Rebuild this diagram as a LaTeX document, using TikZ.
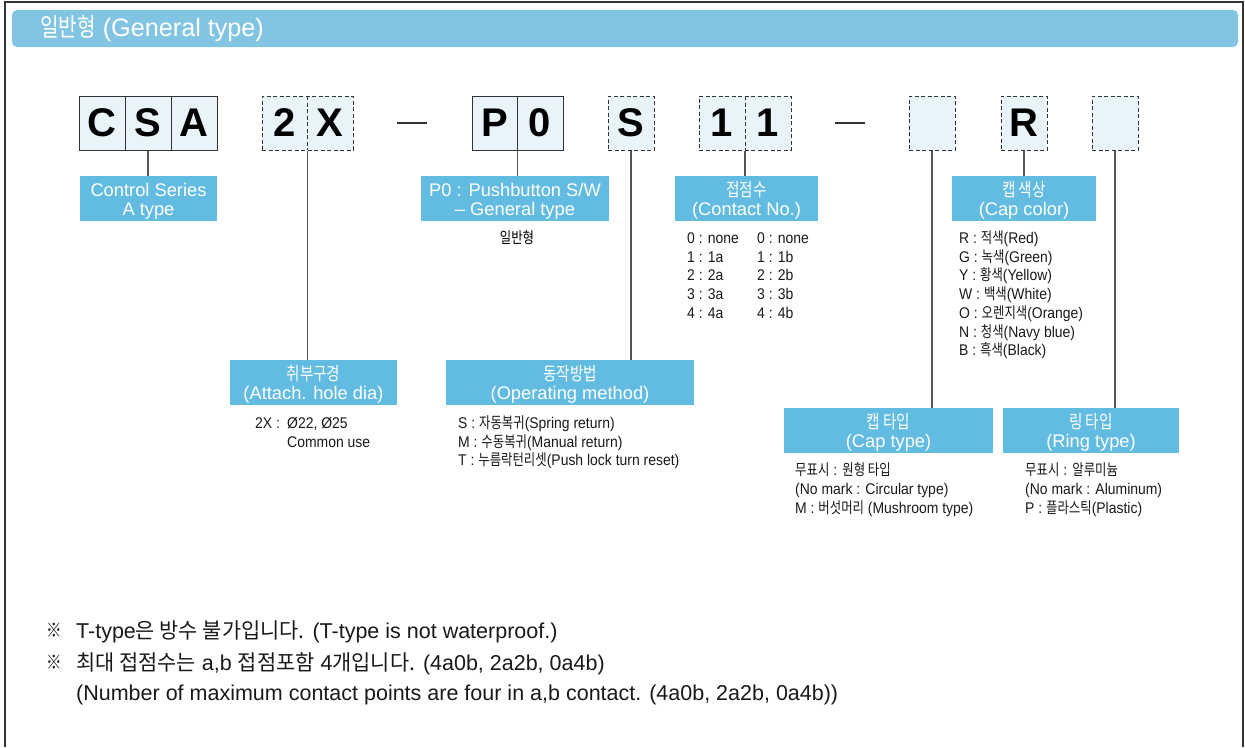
\documentclass[tikz,border=0pt]{standalone}
\usepackage{fontspec}
\setmainfont{Liberation Sans}[FakeStretch=0.9]
\newfontfamily\latw{Liberation Sans}
\newfontfamily\krf{Noto Sans CJK KR}[FakeStretch=0.8]
\newfontfamily\krnf{Noto Sans CJK KR}[FakeStretch=0.97]
\newfontfamily\codef{Liberation Sans}
\newcommand\kr[1]{{\krf #1}}
\newcommand\krn[1]{{\krnf #1}}
\definecolor{hdr}{HTML}{82C5E3}
\definecolor{lab}{HTML}{62BBE1}
\definecolor{cellfill}{HTML}{E8F4F9}
\definecolor{edge}{HTML}{333333}
\definecolor{connc}{HTML}{555555}
\begin{document}
\begin{tikzpicture}[x=1pt,y=-1pt,
  cellbox/.style={draw=edge, fill=cellfill, line width=1pt, minimum height=54pt, inner sep=0pt, rectangle},
  dashcell/.style={cellbox, dash pattern=on 4pt off 2.5pt},
  divsolid/.style={draw=edge, line width=1pt},
  divdash/.style={draw=edge, line width=1pt, dash pattern=on 4pt off 2.5pt},
  codeletter/.style={font=\codef\bfseries\fontsize{40}{40}\selectfont, inner sep=0pt, text=black},
  labelbox/.style={fill=lab, text=white, inner sep=0pt, align=center, minimum height=45pt, font=\latw\fontsize{18.3}{18.5}\selectfont},
  conn/.style={draw=connc, line width=1.2pt},
  listtext/.style={anchor=base west, inner sep=0pt, font=\fontsize{15.5}{18}\selectfont, text=black!90},
  notetext/.style={anchor=base west, inner sep=0pt, font=\latw\fontsize{21.5}{24}\selectfont, text=black!90},
  dashline/.style={draw=edge, line width=1.2pt}
]
\useasboundingbox (0,0) rectangle (1245,747);
% outer frame
\draw[edge, line width=1.5pt] (5,747) -- (5,2) -- (1243,2) -- (1243,747);
% header band
\node[fill=hdr, rounded corners=5pt, minimum width=1226pt, minimum height=37pt, inner sep=0pt] (band) at (625,28.5) {};
\node[anchor=west, text=white, font=\latw\fontsize{25.2}{25}\selectfont, inner sep=0pt] (hdrtext) at (40,29) {\kr{일반형} (General type)};

% code cells
\node[cellbox, minimum width=138pt] (csa) at (148,123) {};
\draw[divsolid] (125,96) -- (125,150);
\draw[divsolid] (171,96) -- (171,150);
\node[codeletter] (lC) at (102,123) {C};
\node[codeletter] (lS) at (148,123) {S};
\node[codeletter] (lA) at (194,123) {A};

\node[dashcell, minimum width=91pt] (g2x) at (307.5,123) {};
\draw[divdash] (307,96) -- (307,150);
\node[codeletter] (l2) at (285,123) {2};
\node[codeletter] (lX) at (330,123) {X};

\draw[dashline] (397,123) -- (427,123);

\node[cellbox, minimum width=91pt] (gp0) at (517.5,123) {};
\draw[divsolid] (517,96) -- (517,150);
\node[codeletter] (lP) at (495,123) {P};
\node[codeletter] (l0) at (540,123) {0};

\node[dashcell, minimum width=46pt] (gs) at (631,123) {};
\node[codeletter] (lS2) at (631,123) {S};

\node[dashcell, minimum width=92pt] (g11) at (745,123) {};
\draw[divdash] (745,96) -- (745,150);
\node[codeletter] (l1a) at (722,123) {1};
\node[codeletter] (l1b) at (768,123) {1};

\draw[dashline] (835,123) -- (865,123);

\node[dashcell, minimum width=46pt] (ge1) at (932,123) {};
\node[dashcell, minimum width=46pt] (gr) at (1024,123) {};
\node[codeletter] (lR) at (1024,123) {R};
\node[dashcell, minimum width=46pt] (ge2) at (1115,123) {};

% label boxes
\node[labelbox, minimum width=137pt] (lcs) at (148.5,198.5) {};
\node[labelbox, minimum width=188pt] (lp0) at (515,198.5) {};
\node[labelbox, minimum width=143pt] (lcn) at (746.5,198.5) {};
\node[labelbox, minimum width=144pt] (lcc) at (1024,198.5) {};
\node[labelbox, minimum width=167pt] (lat) at (313.5,382.5) {};
\node[labelbox, minimum width=248pt] (lop) at (570,382.5) {};
\node[labelbox, minimum width=209pt] (lct) at (888.5,430.5) {};
\node[labelbox, minimum width=176pt] (lrt) at (1091,430.5) {};
% label texts (two lines each)
\begin{scope}[every node/.style={inner sep=0pt, anchor=base, text=white, font=\latw\fontsize{18.3}{18.5}\selectfont}]
\node (tcs1) at (148.5,196.5) {Control Series};
\node (tcs2) at (148.5,215.5) {A type};
\node (tp01) at (515,196.5) {P0 : Pushbutton S/W};
\node (tp02) at (515,215.5) {– General type};
\node (tcn1) at (746.5,196.5) {\kr{접점수}};
\node (tcn2) at (746.5,215.5) {(Contact No.)};
\node (tcc1) at (1024,196.5) {\kr{캡 색상}};
\node (tcc2) at (1024,215.5) {(Cap color)};
\node (tat1) at (313.5,380.5) {\kr{취부구경}};
\node (tat2) at (313.5,399.5) {(Attach. hole dia)};
\node (top1) at (570,380.5) {\kr{동작방법}};
\node (top2) at (570,399.5) {(Operating method)};
\node (tct1) at (888.5,428.5) {\kr{캡 타입}};
\node (tct2) at (888.5,447.5) {(Cap type)};
\node (trt1) at (1091,428.5) {\kr{링 타입}};
\node (trt2) at (1091,447.5) {(Ring type)};
\end{scope}

% connectors
\draw[conn] (csa.south) -- (csa.south |- lcs.north);
\draw[conn] (g2x.south) -- (g2x.south |- lat.north);
\draw[conn] (gp0.south) -- (gp0.south |- lp0.north);
\draw[conn] (gs.south) -- (gs.south |- lop.north);
\draw[conn] (g11.south) -- (g11.south |- lcn.north);
\draw[conn] (ge1.south) -- (ge1.south |- lct.north);
\draw[conn] (gr.south) -- (gr.south |- lcc.north);
\draw[conn] (ge2.south) -- (ge2.south |- lrt.north);

% P0 note
\node[inner sep=0pt, font=\fontsize{15.5}{18}\selectfont] (p0n) at (517,238) {\kr{일반형}};

% contact lists
\node[listtext] (ca0) at (687,243.5) {0 : none};
\node[listtext] (ca1) at (687,262.2) {1 : 1a};
\node[listtext] (ca2) at (687,280.9) {2 : 2a};
\node[listtext] (ca3) at (687,299.6) {3 : 3a};
\node[listtext] (ca4) at (687,318.3) {4 : 4a};
\node[listtext] (cb0) at (757,243.5) {0 : none};
\node[listtext] (cb1) at (757,262.2) {1 : 1b};
\node[listtext] (cb2) at (757,280.9) {2 : 2b};
\node[listtext] (cb3) at (757,299.6) {3 : 3b};
\node[listtext] (cb4) at (757,318.3) {4 : 4b};

% cap colour list
\node[listtext] (cc1) at (959,243.5) {R : \kr{적색}(Red)};
\node[listtext] (cc2) at (959,262.2) {G : \kr{녹색}(Green)};
\node[listtext] (cc3) at (959,280.9) {Y : \kr{황색}(Yellow)};
\node[listtext] (cc4) at (959,299.6) {W : \kr{백색}(White)};
\node[listtext] (cc5) at (959,318.3) {O : \kr{오렌지색}(Orange)};
\node[listtext] (cc6) at (959,337.0) {N : \kr{청색}(Navy blue)};
\node[listtext] (cc7) at (959,355.7) {B : \kr{흑색}(Black)};

% attach list
\node[listtext] (at1) at (255,428.5) {2X :};
\node[listtext] (at2) at (287,428.5) {Ø22, Ø25};
\node[listtext] (at3) at (287,447) {Common use};

% operating list
\node[listtext] (op1) at (458,428.5) {S : \kr{자동복귀}(Spring return)};
\node[listtext] (op2) at (458,447) {M : \kr{수동복귀}(Manual return)};
\node[listtext] (op3) at (458,465.5) {T : \kr{누름락턴리셋}(Push lock turn reset)};

% cap type list
\node[listtext] (ct1) at (795,475.5) {\kr{무표시} : \kr{원형 타입}};
\node[listtext] (ct2) at (795,494.5) {(No mark : Circular type)};
\node[listtext] (ct3) at (795,513.5) {M : \kr{버섯머리} (Mushroom type)};

% ring type list
\node[listtext] (rt1) at (1025,475.5) {\kr{무표시} : \kr{알루미늄}};
\node[listtext] (rt2) at (1025,494.5) {(No mark : Aluminum)};
\node[listtext] (rt3) at (1025,513.5) {P : \kr{플라스틱}(Plastic)};

% notes
\node[notetext, font=\krf\fontsize{19.5}{22}\selectfont] (nm1) at (46.5,637.5) {※};
\node[notetext] (nt1) at (76,638) {T-type\krn{은 방수 불가입니다.} (T-type is not waterproof.)};
\node[notetext, font=\krf\fontsize{19.5}{22}\selectfont] (nm2) at (46.5,669.5) {※};
\node[notetext] (nt2) at (76,670) {\krn{최대 접점수는} a,b \krn{접점포함} 4\krn{개입니다.} (4a0b, 2a2b, 0a4b)};
\node[notetext] (nt3) at (76,700.5) {(Number of maximum contact points are four in a,b contact. (4a0b, 2a2b, 0a4b))};
\end{tikzpicture}
\end{document}
